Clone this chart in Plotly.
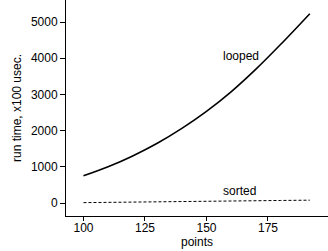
import plotly.graph_objects as go

points = [100, 110, 120, 130, 140, 150, 160, 170, 180, 192]
looped = [750, 1000, 1300, 1650, 2060, 2530, 3070, 3690, 4370, 5230]
sorted_t = [10, 15, 22, 30, 38, 46, 54, 62, 70, 78]

x_ticks = [100, 125, 150, 175]
y_ticks = [0, 1000, 2000, 3000, 4000, 5000]

font = "Liberation Sans, Arial, sans-serif"

fig = go.Figure()
fig.add_trace(go.Scatter(x=points, y=looped, mode="lines",
                         line=dict(color="black", width=1.6, shape="spline"), showlegend=False))
fig.add_trace(go.Scatter(x=points, y=sorted_t, mode="lines",
                         line=dict(color="black", width=1, dash="3px,2px"), showlegend=False))

fig.add_annotation(x=164, y=4050, text="looped", showarrow=False,
                   font=dict(family=font, size=12, color="black"))
fig.add_annotation(x=163.5, y=320, text="sorted", showarrow=False,
                   font=dict(family=font, size=12, color="black"))

fig.update_layout(
    width=328, height=251,
    margin=dict(l=66, r=0, t=0, b=35),
    paper_bgcolor="white", plot_bgcolor="white",
    font=dict(family=font, size=12, color="black"),
    xaxis=dict(range=[92.9, 199.4], tickvals=x_ticks, ticks="outside", ticklen=4,
               ticklabelstandoff=-3,
               tickcolor="black", showline=True, linecolor="black", linewidth=1,
               showgrid=False, zeroline=False,
               title=dict(text="points", standoff=2, font=dict(size=12))),
    yaxis=dict(range=[-359, 5608], tickvals=y_ticks, ticks="outside", ticklen=5,
               tickcolor="black", showline=True, linecolor="black", linewidth=1,
               showgrid=False, zeroline=False,
               title=dict(text="run time, x100 usec.", standoff=6, font=dict(size=12))),
)

fig.write_html("out.html")
